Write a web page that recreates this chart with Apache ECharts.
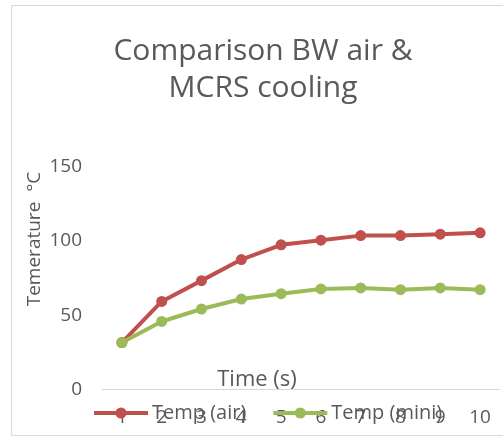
<!DOCTYPE html>
<html>
<head>
<meta charset="utf-8">
<script src="https://cdn.jsdelivr.net/npm/echarts@6/dist/echarts.min.js"></script>
<style>
  html, body { margin: 0; padding: 0; background: #fff; }
  #chart { width: 503px; height: 437px; }
</style>
</head>
<body>
<div id="chart"></div>
<script>
// Time steps (s)
var timeSteps = ['1', '2', '3', '4', '5', '6', '7', '8', '9', '10'];
// Temperature readings (°C)
var tempAir = [31.6, 59.3, 73.3, 87.5, 97.4, 100.5, 103.6, 103.6, 104.6, 105.5];
var tempMini = [31.6, 45.8, 54.2, 60.9, 64.5, 67.7, 68.4, 67.2, 68.4, 67.2];
var yTicks = { min: 0, max: 150, step: 50 };

var FONT = '"Open Sans", sans-serif';
var GRAY = '#595959';

var chart = echarts.init(document.getElementById('chart'));
chart.setOption({
  animation: false,
  backgroundColor: '#ffffff',
  title: {
    text: 'Comparison BW air &\nMCRS cooling',
    left: 258,
    textAlign: 'center',
    top: 28,
    textStyle: {
      fontFamily: FONT,
      fontSize: 30,
      fontWeight: 'normal',
      color: GRAY,
      lineHeight: 37
    }
  },
  graphic: [
    {
      type: 'rect',
      shape: { x: 11.5, y: 5.5, width: 520, height: 430 },
      style: { fill: 'none', stroke: '#D9D9D9', lineWidth: 1 },
      silent: true
    },
    {
      type: 'text',
      x: 35,
      y: 239,
      rotation: Math.PI / 2,
      style: {
        text: 'Temerature  °C',
        fontFamily: FONT,
        fontSize: 19,
        fill: GRAY,
        align: 'center',
        verticalAlign: 'middle'
      }
    },
    {
      type: 'text',
      x: 257,
      y: 380,
      style: {
        text: 'Time (s)',
        fontFamily: FONT,
        fontSize: 22,
        fill: GRAY,
        align: 'center',
        verticalAlign: 'middle'
      }
    }
  ],
  legend: {
    left: 92,
    top: 403,
    padding: 0,
    itemWidth: 54,
    itemHeight: 14,
    itemGap: 25,
    lineStyle: { width: 4 },
    textStyle: { fontFamily: FONT, fontSize: 20, color: GRAY, padding: [0, 0, 0, -1] },
    data: ['Temp (air)', 'Temp (mini)']
  },
  grid: {
    left: 102,
    right: 3,
    top: 166.7,
    bottom: 437 - 389.5,
    containLabel: false
  },
  xAxis: {
    type: 'category',
    data: timeSteps,
    boundaryGap: true,
    axisLine: { lineStyle: { color: '#D9D9D9', width: 1 } },
    axisTick: { show: false },
    axisLabel: {
      fontFamily: FONT,
      fontSize: 19,
      color: GRAY,
      margin: 19
    }
  },
  yAxis: {
    type: 'value',
    min: yTicks.min,
    max: yTicks.max,
    interval: yTicks.step,
    splitLine: { show: false },
    axisLine: { show: false },
    axisTick: { show: false },
    axisLabel: {
      fontFamily: FONT,
      fontSize: 19,
      color: GRAY,
      margin: 20
    }
  },
  series: [
    {
      name: 'Temp (air)',
      type: 'line',
      data: tempAir,
      color: '#C0504D',
      symbol: 'circle',
      symbolSize: 11,
      lineStyle: { width: 4, color: '#C0504D' },
      itemStyle: { color: '#C0504D' }
    },
    {
      name: 'Temp (mini)',
      type: 'line',
      data: tempMini,
      color: '#9BBB59',
      symbol: 'circle',
      symbolSize: 11,
      lineStyle: { width: 4, color: '#9BBB59' },
      itemStyle: { color: '#9BBB59' }
    }
  ]
});
</script>
</body>
</html>
